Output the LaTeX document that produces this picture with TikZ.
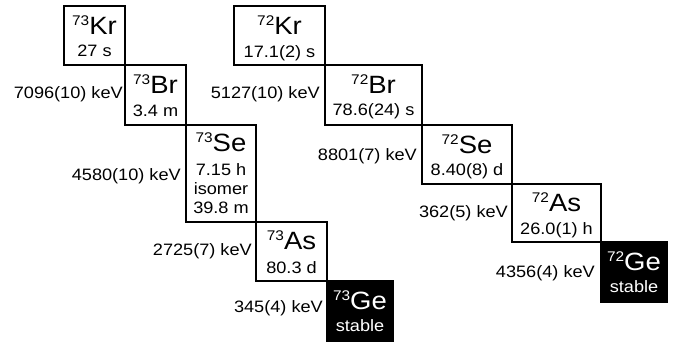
\documentclass[tikz,border=0pt]{standalone}
\usepackage{fontspec}
\setmainfont[FakeStretch=1.1]{Liberation Sans}
\newcommand\nucl[2]{{\fontsize{14}{16}\selectfont\raisebox{8.9pt}{#1}}{\fontsize{25}{27}\selectfont #2}}
\tikzset{
  nbox/.style={draw=black, line width=1.3pt, anchor=north west, inner sep=0pt, outer sep=0pt},
  sbox/.style={nbox, fill=black},
  el/.style={anchor=base, inner sep=0pt},
  hl/.style={anchor=base, inner sep=0pt, font=\fontsize{16.5}{18}\selectfont},
  kev/.style={anchor=base east, inner sep=0pt, font=\fontsize{16.5}{18}\selectfont},
}
\begin{document}
\begin{tikzpicture}[x=1pt,y=-1pt]
\useasboundingbox (0,0) rectangle (685,341);
% A = 73 chain
\node[nbox, minimum width=61pt, minimum height=59pt] (krA) at (64,6) {};
\node[nbox, minimum width=61pt, minimum height=60pt] (brA) at (125,65) {};
\node[nbox, minimum width=70pt, minimum height=97pt] (seA) at (186,125) {};
\node[nbox, minimum width=71pt, minimum height=59pt] (asA) at (256,222) {};
\node[sbox, minimum width=66pt, minimum height=62pt] (geA) at (327,281) {};
% A = 72 chain
\node[nbox, minimum width=91pt, minimum height=59pt] (krB) at (234,6) {};
\node[nbox, minimum width=97pt, minimum height=60pt] (brB) at (325,65) {};
\node[nbox, minimum width=90pt, minimum height=59pt] (seB) at (422,125) {};
\node[nbox, minimum width=89pt, minimum height=58pt] (asB) at (512,184) {};
\node[sbox, minimum width=66pt, minimum height=60pt] (geB) at (601,242) {};
% texts 73
\node[el] (krAe) at (94.5,34) {\nucl{73}{Kr}};
\node[hl] (krAh) at (94.5,56.5) {27 s};
\node[el] (brAe) at (155.5,93) {\nucl{73}{Br}};
\node[hl] (brAh) at (155.5,116) {3.4 m};
\node[el] (seAe) at (221,151.5) {\nucl{73}{Se}};
\node[hl] (seAh) at (221,175) {7.15 h};
\node[hl] (seAi) at (221,194) {isomer};
\node[hl] (seAj) at (221,213) {39.8 m};
\node[el] (asAe) at (291.5,249.5) {\nucl{73}{As}};
\node[hl] (asAh) at (291.5,273) {80.3 d};
\node[el, text=white] (geAe) at (360,309) {\nucl{73}{Ge}};
\node[hl, text=white] (geAh) at (360,331) {stable};
% texts 72
\node[el] (krBe) at (279.5,34) {\nucl{72}{Kr}};
\node[hl] (krBh) at (279.5,57) {17.1(2) s};
\node[el] (brBe) at (373.5,93.5) {\nucl{72}{Br}};
\node[hl] (brBh) at (373.5,115.5) {78.6(24) s};
\node[el] (seBe) at (467,153) {\nucl{72}{Se}};
\node[hl] (seBh) at (467,175) {8.40(8) d};
\node[el] (asBe) at (556.5,211) {\nucl{72}{As}};
\node[hl] (asBh) at (556.5,234) {26.0(1) h};
\node[el, text=white] (geBe) at (634,270) {\nucl{72}{Ge}};
\node[hl, text=white] (geBh) at (634,292) {stable};
% energies
\node[kev] (qA1) at (123,98) {7096(10) keV};
\node[kev] (qA2) at (181,180) {4580(10) keV};
\node[kev] (qA3) at (252,255) {2725(7) keV};
\node[kev] (qA4) at (323,312.5) {345(4) keV};
\node[kev] (qB1) at (320,98.5) {5127(10) keV};
\node[kev] (qB2) at (417,160) {8801(7) keV};
\node[kev] (qB3) at (508,217) {362(5) keV};
\node[kev] (qB4) at (595,277) {4356(4) keV};
\end{tikzpicture}
\end{document}
